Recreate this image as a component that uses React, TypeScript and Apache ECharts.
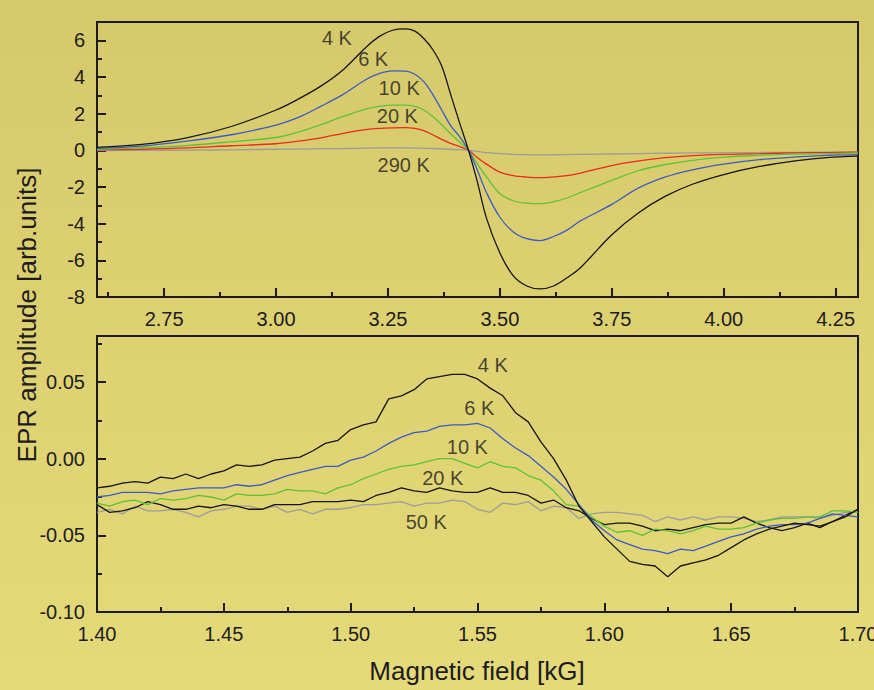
import React, { useEffect, useRef } from "react";
import * as echarts from "echarts";

// ---------- top panel (field in kG, amplitude in arb. units) ----------
const fieldTop = [2.60, 2.70, 2.80, 2.90, 3.00, 3.05, 3.10, 3.15, 3.20, 3.23, 3.26, 3.29, 3.31, 3.33, 3.35, 3.37, 3.39, 3.41, 3.43, 3.45, 3.47, 3.50, 3.53, 3.56, 3.59, 3.62, 3.65, 3.68, 3.75, 3.81, 3.87, 3.93, 4.00, 4.08, 4.16, 4.23, 4.30];
const top4K = [0.16, 0.32, 0.68, 1.3, 2.2, 2.8, 3.5, 4.4, 5.6, 6.2, 6.55, 6.63, 6.5, 6.1, 5.5, 4.6, 3.05, 1.5, 0, -1.75, -3.7, -5.6, -6.85, -7.4, -7.56, -7.4, -6.95, -6.4, -4.6, -3.4, -2.5, -1.85, -1.32, -0.88, -0.57, -0.40, -0.32];
const top6K = [0.11, 0.23, 0.50, 0.85, 1.38, 1.8, 2.4, 3.05, 3.85, 4.18, 4.33, 4.32, 4.15, 3.75, 3.05, 2.2, 1.35, 0.75, 0, -1.1, -2.3, -3.65, -4.45, -4.82, -4.92, -4.7, -4.35, -3.85, -2.95, -2.05, -1.45, -1.06, -0.75, -0.51, -0.36, -0.27, -0.23];
const top10K = [0.06, 0.14, 0.26, 0.47, 0.7, 1.0, 1.4, 1.85, 2.25, 2.4, 2.47, 2.47, 2.4, 2.2, 1.85, 1.4, 0.9, 0.45, 0, -0.75, -1.45, -2.37, -2.75, -2.88, -2.91, -2.8, -2.6, -2.3, -1.64, -1.1, -0.78, -0.55, -0.37, -0.27, -0.21, -0.18, -0.14];
const top20K = [0.02, 0.06, 0.13, 0.25, 0.36, 0.5, 0.68, 0.93, 1.13, 1.2, 1.23, 1.24, 1.2, 1.08, 0.85, 0.6, 0.38, 0.2, 0, -0.4, -0.75, -1.19, -1.38, -1.46, -1.49, -1.45, -1.38, -1.24, -0.83, -0.58, -0.40, -0.29, -0.22, -0.18, -0.14, -0.12, -0.10];
const top290K = [-0.02, 0, 0.01, 0.03, 0.06, 0.07, 0.09, 0.1, 0.12, 0.13, 0.13, 0.13, 0.12, 0.11, 0.1, 0.08, 0.06, 0.03, 0, -0.06, -0.12, -0.18, -0.22, -0.24, -0.25, -0.24, -0.23, -0.22, -0.2, -0.18, -0.16, -0.14, -0.13, -0.12, -0.11, -0.10, -0.09];

const topXMajor = [2.75, 3.0, 3.25, 3.5, 3.75, 4.0, 4.25];
const topXMinor = [2.625, 2.875, 3.125, 3.375, 3.625, 3.875, 4.125];
const topYMajor = [-8, -6, -4, -2, 0, 2, 4, 6];
const topYMinor = [-7, -5, -3, -1, 1, 3, 5];

const topLabels = [
  { name: "4 K", x: 3.136, y: 6.13 },
  { name: "6 K", x: 3.217, y: 4.98 },
  { name: "10 K", x: 3.275, y: 3.42 },
  { name: "20 K", x: 3.271, y: 1.89 },
  { name: "290 K", x: 3.285, y: -0.79 },
];

// ---------- bottom panel ----------
const fieldBottom = [
  1.400, 1.405, 1.410, 1.415, 1.420, 1.425, 1.430, 1.435, 1.440, 1.445,
  1.450, 1.455, 1.460, 1.465, 1.470, 1.475, 1.480, 1.485, 1.490, 1.495,
  1.500, 1.505, 1.510, 1.515, 1.520, 1.525, 1.530, 1.535, 1.540, 1.545,
  1.550, 1.555, 1.560, 1.565, 1.570, 1.575, 1.580, 1.585, 1.590, 1.595,
  1.600, 1.605, 1.610, 1.615, 1.620, 1.625, 1.630, 1.635, 1.640, 1.645,
  1.650, 1.655, 1.660, 1.665, 1.670, 1.675, 1.680, 1.685, 1.690, 1.695,
  1.700,
];
const bot4K = [
  -0.019, -0.018, -0.016, -0.015, -0.016, -0.012, -0.013, -0.010, -0.013, -0.010,
  -0.008, -0.004, -0.005, -0.004, -0.001, 0.000, 0.001, 0.005, 0.010, 0.012,
  0.019, 0.022, 0.024, 0.039, 0.041, 0.045, 0.052, 0.0535, 0.055, 0.055,
  0.052, 0.046, 0.041, 0.030, 0.024, 0.011, 0.000, -0.014, -0.031, -0.041,
  -0.051, -0.059, -0.067, -0.069, -0.070, -0.077, -0.070, -0.068, -0.066, -0.063,
  -0.058, -0.053, -0.049, -0.046, -0.044, -0.042, -0.043, -0.044, -0.041, -0.038,
  -0.033,
];
const bot6K = [
  -0.025, -0.024, -0.022, -0.022, -0.022, -0.023, -0.021, -0.020, -0.019, -0.019,
  -0.019, -0.017, -0.018, -0.017, -0.014, -0.011, -0.009, -0.007, -0.005, -0.005,
  -0.001, 0.001, 0.005, 0.010, 0.014, 0.017, 0.018, 0.021, 0.022, 0.022,
  0.023, 0.020, 0.013, 0.007, 0.002, -0.005, -0.012, -0.020, -0.030, -0.040,
  -0.047, -0.053, -0.056, -0.059, -0.060, -0.062, -0.059, -0.060, -0.057, -0.054,
  -0.051, -0.049, -0.046, -0.044, -0.043, -0.043, -0.042, -0.039, -0.036, -0.037,
  -0.038,
];
const bot10K = [
  -0.029, -0.031, -0.028, -0.027, -0.030, -0.026, -0.027, -0.026, -0.024, -0.025,
  -0.027, -0.023, -0.024, -0.024, -0.023, -0.020, -0.021, -0.021, -0.023, -0.019,
  -0.017, -0.013, -0.010, -0.007, -0.005, -0.004, -0.002, 0.000, 0.000, -0.003,
  -0.006, -0.002, -0.005, -0.006, -0.011, -0.014, -0.021, -0.030, -0.031, -0.038,
  -0.044, -0.048, -0.047, -0.050, -0.046, -0.047, -0.049, -0.047, -0.044, -0.046,
  -0.046, -0.045, -0.042, -0.040, -0.039, -0.039, -0.038, -0.038, -0.034, -0.034,
  -0.035,
];
const bot20K = [
  -0.030, -0.035, -0.034, -0.032, -0.028, -0.030, -0.033, -0.033, -0.031, -0.032,
  -0.030, -0.031, -0.033, -0.033, -0.030, -0.030, -0.030, -0.028, -0.028, -0.028,
  -0.027, -0.028, -0.024, -0.022, -0.019, -0.021, -0.022, -0.019, -0.021, -0.022,
  -0.022, -0.019, -0.022, -0.022, -0.024, -0.029, -0.027, -0.032, -0.034, -0.039,
  -0.043, -0.042, -0.042, -0.044, -0.047, -0.046, -0.047, -0.045, -0.043, -0.042,
  -0.042, -0.038, -0.042, -0.045, -0.047, -0.045, -0.042, -0.045, -0.041, -0.037,
  -0.033,
];
const bot50K = [
  -0.035, -0.033, -0.036, -0.031, -0.034, -0.034, -0.033, -0.035, -0.038, -0.034,
  -0.033, -0.031, -0.031, -0.033, -0.031, -0.035, -0.033, -0.036, -0.033, -0.033,
  -0.032, -0.030, -0.030, -0.029, -0.028, -0.031, -0.029, -0.029, -0.027, -0.028,
  -0.033, -0.035, -0.029, -0.030, -0.028, -0.034, -0.031, -0.032, -0.039, -0.036,
  -0.035, -0.035, -0.036, -0.037, -0.041, -0.038, -0.040, -0.038, -0.040, -0.038,
  -0.038, -0.039, -0.041, -0.040, -0.038, -0.038, -0.038, -0.039, -0.037, -0.035,
  -0.035,
];

const botXMajor = [1.40, 1.45, 1.50, 1.55, 1.60, 1.65, 1.70];
const botXMinor = [1.425, 1.475, 1.525, 1.575, 1.625, 1.675];
const botYMajor = [-0.10, -0.05, 0.00, 0.05];
const botYMinor = [-0.075, -0.025, 0.025, 0.075];

const botLabels = [
  { name: "4 K", x: 1.556, y: 0.0609 },
  { name: "6 K", x: 1.5507, y: 0.0328 },
  { name: "10 K", x: 1.546, y: 0.0076 },
  { name: "20 K", x: 1.5363, y: -0.0129 },
  { name: "50 K", x: 1.5298, y: -0.0414 },
];

const FONT = '"Liberation Sans", Arial, Helvetica, sans-serif';
const TXT = "#1c1c1c";
const AXIS = "#1c1c1c";
const C_BLACK = "#151515";
const C_BLUE = "#3a5bc6";
const C_GREEN = "#5cc23a";
const C_RED = "#ea2a1e";
const C_GRAY = "#9c9c9c";

function zip(xs: number[], ys: number[]) {
  return xs.map((x, i) => [x, ys[i]]);
}

function majorAxis(grid: number, pos: string, min: number, max: number, ticks: number[], fmt: (v: number) => string) {
  return {
    type: "value",
    gridIndex: grid,
    position: pos,
    min,
    max,
    axisLine: { show: true, onZero: false, lineStyle: { color: AXIS, width: 2 } },
    axisTick: { show: true, inside: true, length: 9, lineStyle: { color: AXIS, width: 2 }, customValues: ticks },
    axisLabel: {
      show: true,
      customValues: ticks,
      formatter: (v: number) => fmt(v),
      fontSize: 20,
      color: TXT,
      fontFamily: FONT,
      margin: 12,
    },
    splitLine: { show: false },
  };
}

function minorAxis(grid: number, pos: string, min: number, max: number, ticks: number[]) {
  return {
    type: "value",
    gridIndex: grid,
    position: pos,
    min,
    max,
    axisLine: { show: false, onZero: false },
    axisTick: { show: true, inside: true, length: 5, lineStyle: { color: AXIS, width: 2 }, customValues: ticks },
    axisLabel: { show: false },
    splitLine: { show: false },
  };
}

function lineSeries(x: number, y: number, xs: number[], ys: number[], color: string, smooth: boolean) {
  return {
    type: "line",
    xAxisIndex: x,
    yAxisIndex: y,
    data: zip(xs, ys),
    showSymbol: false,
    smooth: smooth ? 0.35 : false,
    lineStyle: { color, width: 1.3 },
    silent: true,
    z: 3,
  };
}

function labelSeries(x: number, y: number, items: { name: string; x: number; y: number }[]) {
  return {
    type: "scatter",
    xAxisIndex: x,
    yAxisIndex: y,
    symbolSize: 1,
    itemStyle: { color: "rgba(0,0,0,0)" },
    silent: true,
    z: 5,
    data: items.map((d) => ({ name: d.name, value: [d.x, d.y] })),
    label: {
      show: true,
      position: "inside",
      formatter: "{b}",
      fontSize: 20,
      color: TXT,
      fontFamily: FONT,
    },
  };
}

export default function App() {
  const ref = useRef<HTMLDivElement>(null);
  useEffect(() => {
    if (!ref.current) return;
    const chart = echarts.init(ref.current, null, { renderer: "svg" });
    const option: any = {
      animation: false,
      backgroundColor: "transparent",
      grid: [
        { left: 97, top: 22, width: 761, height: 275, show: true, borderColor: AXIS, borderWidth: 2, backgroundColor: "transparent", outerBoundsMode: "none", containLabel: false },
        { left: 97, top: 336, width: 761, height: 276, show: true, borderColor: AXIS, borderWidth: 2, backgroundColor: "transparent", outerBoundsMode: "none", containLabel: false },
      ],
      xAxis: [
        majorAxis(0, "bottom", 2.6, 4.3, topXMajor, (v) => v.toFixed(2)),
        minorAxis(0, "bottom", 2.6, 4.3, topXMinor),
        majorAxis(1, "bottom", 1.4, 1.7, botXMajor, (v) => v.toFixed(2)),
        minorAxis(1, "bottom", 1.4, 1.7, botXMinor),
      ],
      yAxis: [
        majorAxis(0, "left", -8, 7, topYMajor, (v) => String(Math.round(v))),
        minorAxis(0, "left", -8, 7, topYMinor),
        majorAxis(1, "left", -0.1, 0.08, botYMajor, (v) => v.toFixed(2)),
        minorAxis(1, "left", -0.1, 0.08, botYMinor),
      ],
      series: [
        lineSeries(0, 0, fieldTop, top290K, C_GRAY, true),
        lineSeries(0, 0, fieldTop, top20K, C_RED, true),
        lineSeries(0, 0, fieldTop, top10K, C_GREEN, true),
        lineSeries(0, 0, fieldTop, top6K, C_BLUE, true),
        lineSeries(0, 0, fieldTop, top4K, C_BLACK, true),
        labelSeries(0, 0, topLabels),
        lineSeries(2, 2, fieldBottom, bot50K, C_GRAY, false),
        lineSeries(2, 2, fieldBottom, bot20K, C_BLACK, false),
        lineSeries(2, 2, fieldBottom, bot10K, C_GREEN, false),
        lineSeries(2, 2, fieldBottom, bot6K, C_BLUE, false),
        lineSeries(2, 2, fieldBottom, bot4K, C_BLACK, false),
        labelSeries(2, 2, botLabels),
      ],
      graphic: [
        {
          type: "text",
          x: 27,
          y: 315,
          rotation: Math.PI / 2,
          style: {
            text: "EPR amplitude [arb.units]",
            fontSize: 26,
            fontFamily: FONT,
            fill: TXT,
            align: "center",
            verticalAlign: "middle",
          },
        },
        {
          type: "text",
          x: 477,
          y: 671,
          style: {
            text: "Magnetic field [kG]",
            fontSize: 26,
            fontFamily: FONT,
            fill: TXT,
            align: "center",
            verticalAlign: "middle",
          },
        },
      ],
    };
    chart.setOption(option);
    return () => chart.dispose();
  }, []);
  return (
    <div
      ref={ref}
      style={{
        position: "fixed",
        left: 0,
        top: 0,
        width: 874,
        height: 690,
        background: "linear-gradient(180deg, #d6c96b 0%, #ddd172 50%, #e5da79 100%)",
      }}
    />
  );
}
